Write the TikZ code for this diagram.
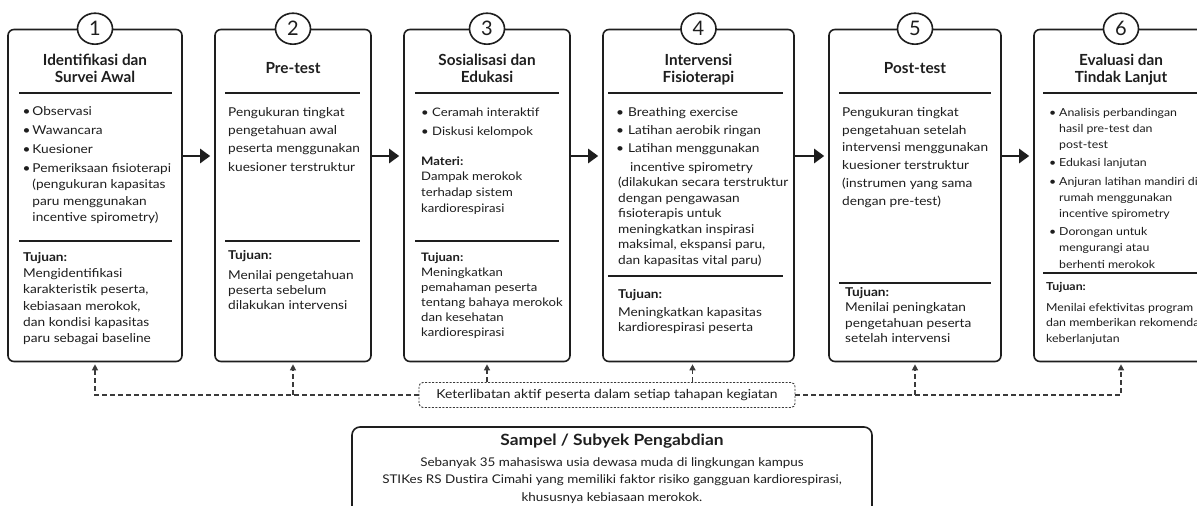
\documentclass[tikz,border=0pt]{standalone}
\usepackage{fontspec}
\setmainfont{Lato}
\newfontfamily\wide{Lato}[FakeStretch=1.12]
\usetikzlibrary{arrows.meta,shapes.geometric,calc}
\definecolor{ink}{HTML}{1E1E1E}
\definecolor{dashc}{HTML}{3A3A3A}
\newcommand\bst{\rule{0pt}{10pt}}
\newcommand\tst{\rule{0pt}{12.5pt}}
\newcommand\bul{\makebox[10pt][l]{\textbullet}}
\newcommand\ind{\hspace*{10pt}}
\begin{document}
\begin{tikzpicture}[x=1pt,y=-1pt,
  box/.style={draw=ink,line width=1.6pt,rounded corners=6pt,fill=white,minimum width=#1,minimum height=332pt,inner sep=0pt},
  num/.style={draw=ink,line width=1.6pt,fill=white,ellipse,minimum width=35pt,minimum height=31pt,inner sep=0pt,font={\fontsize{20}{22}\selectfont},text=ink},
  ttl/.style={anchor=north,align=center,inner sep=0pt,text=ink,font={\fontsize{15.3}{17.3}\selectfont\bfseries}},
  txt/.style={anchor=north west,align=left,inner sep=0pt,text=ink,font={\wide\fontsize{12.2}{#1}\selectfont}},
  txs/.style={anchor=north west,align=left,inner sep=0pt,text=ink,font={\wide\fontsize{11.7}{#1}\selectfont}},
  txn/.style={anchor=north west,align=left,inner sep=0pt,text=ink,font={\wide\fontsize{11}{#1}\selectfont}},
  sepl/.style={draw=ink,line width=1.2pt},
  flow/.style={draw=ink,line width=2.6pt,-{Triangle[length=10pt,width=14pt]},shorten >=4pt},
  dsh/.style={draw=dashc,line width=1.2pt,dash pattern=on 5pt off 3pt,-{Triangle[length=6pt,width=6pt]},shorten >=2pt},
  ketbox/.style={draw=dashc,line width=0.9pt,dash pattern=on 2pt off 1.5pt,rounded corners=4pt,minimum width=376pt,minimum height=25pt,fill=white,inner sep=0pt,text=ink,font={\wide\fontsize{12.4}{15}\selectfont}},
  sampbox/.style={draw=ink,line width=1.6pt,rounded corners=8pt,minimum width=520pt,minimum height=110pt,inner sep=0pt}
]
\useasboundingbox (0,0) rectangle (1197,506);
\clip (0,0) rectangle (1197,506);
\fill[white] (0,0) rectangle (1197,506);

% boxes
\node[box=174pt] (b1) at (95,195.5) {};
\node[box=156pt] (b2) at (293,195.5) {};
\node[box=166pt] (b3) at (487,195.5) {};
\node[box=191pt] (b4) at (698.5,195.5) {};
\node[box=172pt] (b5) at (915,195.5) {};
\node[box=174pt] (b6) at (1121,195.5) {};

% numbers
\node[num] (n1) at (b1.north) {1};
\node[num] (n2) at (b2.north) {2};
\node[num] (n3) at (b3.north) {3};
\node[num] (n4) at (b4.north) {4};
\node[num] (n5) at (b5.north) {5};
\node[num] (n6) at (b6.north) {6};

% titles
\node[ttl] (t1) at (95,52.4) {\tst Identifikasi dan\\Survei Awal};
\node[ttl] (t2) at (293,60.4) {\tst Pre-test};
\node[ttl] (t3) at (487,52.4) {\tst Sosialisasi dan\\Edukasi};
\node[ttl] (t4) at (698.5,52.4) {\tst Intervensi\\Fisioterapi};
\node[ttl] (t5) at (915,60.4) {\tst Post-test};
\node[ttl] (t6) at (1121,52.4) {\tst Evaluasi dan\\Tindak Lanjut};

% separators
\draw[sepl] (19,93) -- (172,93);   \draw[sepl] (19,241) -- (172,241);
\draw[sepl] (225,93) -- (360,93);  \draw[sepl] (225,241) -- (360,241);
\draw[sepl] (415,93) -- (559,93);  \draw[sepl] (415,241) -- (559,241);
\draw[sepl] (608,93) -- (783,93);  \draw[sepl] (608,276) -- (783,276);
\draw[sepl] (839,93) -- (991,93);  \draw[sepl] (839,283) -- (991,283);
\draw[sepl] (1043,93) -- (1200,93); \draw[sepl] (1043,273) -- (1200,273);

% box 1
\node[txt=16.5] (p1) at (22.3,105) {\bst\bul Observasi\\[2.5pt]
\bul Wawancara\\[2.5pt]
\bul Kuesioner\\[2.5pt]
\bul Pemeriksaan fisioterapi\\
\ind (pengukuran kapasitas\\
\ind paru menggunakan\\
\ind incentive spirometry)};
\node[txt=16.2] (g1) at (23,251.3) {\bst\textbf{Tujuan:}\\Mengidentifikasi\\karakteristik peserta,\\kebiasaan merokok,\\dan kondisi kapasitas\\paru sebagai baseline};

% box 2
\node[txt=18.3] (p2) at (228,106) {\bst Pengukuran tingkat\\pengetahuan awal\\peserta menggunakan\\kuesioner terstruktur};
\node[txt=15] (g2) at (228,249.7) {\bst\textbf{Tujuan:}\\[5pt]Menilai pengetahuan\\peserta sebelum\\dilakukan intervensi};

% box 3
\node[txs=19] (p3) at (421,106) {\bst\makebox[11pt][l]{\textbullet}Ceramah interaktif\\\makebox[11pt][l]{\textbullet}Diskusi kelompok};
\node[txs=15.7] (m3) at (421,155) {\bst\textbf{Materi:}\\Dampak merokok\\terhadap sistem\\kardiorespirasi};
\node[txs=15.1] (g3) at (421,251) {\bst\textbf{Tujuan:}\\Meningkatkan\\pemahaman peserta\\tentang bahaya merokok\\dan kesehatan\\kardiorespirasi};

% box 4
\node[txt=15.5] (p4) at (616,106) {\bst\makebox[12pt][l]{\textbullet}Breathing exercise\\[2.8pt]
\makebox[12pt][l]{\textbullet}Latihan aerobik ringan\\[2.8pt]
\makebox[12pt][l]{\textbullet}Latihan menggunakan\\[3pt]
\hspace*{14pt}incentive spirometry\\
\hspace*{2pt}(dilakukan secara terstruktur\\
\hspace*{2pt}dengan pengawasan\\
\hspace*{2pt}fisioterapis untuk\\
\hspace*{2pt}meningkatkan inspirasi\\
\hspace*{2pt}maksimal, ekspansi paru,\\
\hspace*{2pt}dan kapasitas vital paru)};
\node[txt=15] (g4) at (618,288) {\bst\textbf{Tujuan:}\\[3pt]Meningkatkan kapasitas\\kardiorespirasi peserta};

% box 5
\node[txt=17.8] (p5) at (842,106) {\bst Pengukuran tingkat\\pengetahuan setelah\\intervensi menggunakan\\kuesioner terstruktur\\(instrumen yang sama\\dengan pre-test)};
\node[txt=15.5] (g5) at (845,286) {\bst\textbf{Tujuan:}\\Menilai peningkatan\\pengetahuan peserta\\setelah intervensi};

% box 6
\node[txn=16.2] (p6) at (1049,106) {\bst\bul Analisis perbandingan\\
\ind hasil pre-test dan\\
\ind post-test\\[2pt]
\bul Edukasi lanjutan\\[2pt]
\bul Anjuran latihan mandiri di\\
\ind rumah menggunakan\\
\ind incentive spirometry\\[2pt]
\bul Dorongan untuk\\
\ind mengurangi atau\\
\ind berhenti merokok};
\node[txn=15.5] (g6) at (1046,280) {\bst\textbf{Tujuan:}\\[5.5pt]Menilai efektivitas program\\dan memberikan rekomendasi\\keberlanjutan};

% flow arrows
\coordinate (ay) at (0,156);
\draw[flow] (b1.east |- ay) -- (b2.west |- ay);
\draw[flow] (b2.east |- ay) -- (b3.west |- ay);
\draw[flow] (b3.east |- ay) -- (b4.west |- ay);
\draw[flow] (b4.east |- ay) -- (b5.west |- ay);
\draw[flow] (b5.east |- ay) -- (b6.west |- ay);

% participation box
\node[ketbox] (ket) at (607,395) {Keterlibatan aktif peserta dalam setiap tahapan kegiatan};
\draw[dsh] (ket.west) -| (b1.south);
\draw[dsh] (b2.south |- ket.west) -- (b2.south);
\draw[dsh] (ket.north -| b3.south) -- (b3.south);
\draw[dsh] ($(ket.north -| b4.south)+(-6,0)$) -- ($(b4.south)+(-6,0)$);
\draw[dsh] (b5.south |- ket.east) -- (b5.south);
\draw[dsh] (ket.east) -| (b6.south);

% sample box
\node[sampbox] (samp) at (612,482) {};
\node[anchor=north,align=center,inner sep=0pt,text=ink,font={\wide\fontsize{15.5}{18}\selectfont\bfseries}] (st) at (612,432) {\rule{0pt}{13pt}Sampel / Subyek Pengabdian};
\node[anchor=north,align=center,inner sep=0pt,text=ink,font={\wide\fontsize{12}{17.5}\selectfont}] (sb) at (612,456) {\bst Sebanyak 35 mahasiswa usia dewasa muda di lingkungan kampus\\STIKes RS Dustira Cimahi yang memiliki faktor risiko gangguan kardiorespirasi,\\khususnya kebiasaan merokok.};
\end{tikzpicture}
\end{document}
